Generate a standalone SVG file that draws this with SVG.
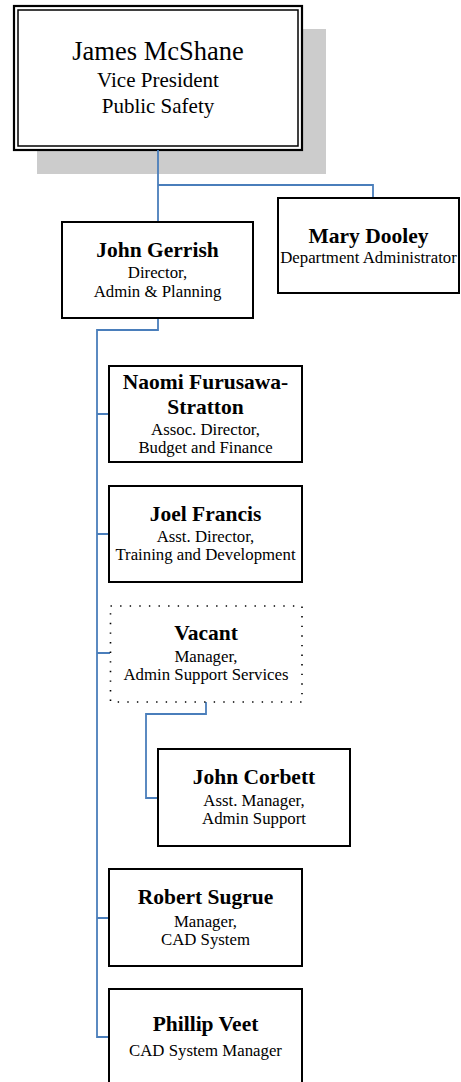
<svg xmlns="http://www.w3.org/2000/svg" width="461" height="1082" viewBox="0 0 461 1082">
<style>
.box{fill:#fff;stroke:#000;stroke-width:2}
.dot{fill:#fff;stroke:#000;stroke-width:1.6;stroke-dasharray:1.4 8.2}
.conn{fill:none;stroke:#4a7ebb;stroke-width:1.8}
text{font-family:"Liberation Serif","Times New Roman",serif;text-anchor:middle;fill:#000}
.n{font-weight:bold;font-size:21.5px}
.t{font-size:16.8px}
</style>
<rect x="0" y="0" width="461" height="1082" fill="#fff"/>
<g id="vp">
<rect x="37" y="29" width="289" height="145" fill="#cccccc"/>
<rect x="14" y="6" width="288" height="144" fill="#fff" stroke="#000" stroke-width="2.2"/>
<rect x="18" y="10" width="280" height="136" fill="none" stroke="#000" stroke-width="1.5"/>
<text x="158" y="60" font-size="26.5">James McShane</text>
<text x="158" y="87" font-size="21">Vice President</text>
<text x="158" y="113" font-size="21">Public Safety</text>
</g>
<g id="connectors">
<path class="conn" d="M158 150V222M158 185H373V198"/>
<path class="conn" d="M158 318V330H97V1037H109M97 414H109M97 534H109M97 653H110M97 918H109"/>
<path class="conn" d="M206 702V714H146V798H158"/>
</g>
<g id="gerrish">
<rect class="box" x="62" y="222" width="191" height="96"/>
<text class="n" x="157.5" y="257">John Gerrish</text>
<text class="t" x="157.5" y="278">Director,</text>
<text class="t" x="157.5" y="297">Admin &amp; Planning</text>
</g>
<g id="dooley">
<rect class="box" x="278" y="198" width="181" height="95"/>
<text class="n" x="368.5" y="243">Mary Dooley</text>
<text class="t" x="368.5" y="263">Department Administrator</text>
</g>
<g id="furusawa">
<rect class="box" x="109" y="366" width="193" height="96"/>
<text class="n" x="205.5" y="389">Naomi Furusawa-</text>
<text class="n" x="205.5" y="414">Stratton</text>
<text class="t" x="205.5" y="435">Assoc. Director,</text>
<text class="t" x="205.5" y="453">Budget and Finance</text>
</g>
<g id="francis">
<rect class="box" x="109" y="486" width="193" height="96"/>
<text class="n" x="205.5" y="521">Joel Francis</text>
<text class="t" x="205.5" y="542">Asst. Director,</text>
<text class="t" x="205.5" y="560">Training and Development</text>
</g>
<g id="vacant">
<rect class="dot" x="110.5" y="606" width="191.5" height="96"/>
<text class="n" x="206" y="640">Vacant</text>
<text class="t" x="206" y="662">Manager,</text>
<text class="t" x="206" y="680">Admin Support Services</text>
</g>
<g id="corbett">
<rect class="box" x="158" y="749" width="192" height="97"/>
<text class="n" x="254" y="784">John Corbett</text>
<text class="t" x="254" y="806">Asst. Manager,</text>
<text class="t" x="254" y="824">Admin Support</text>
</g>
<g id="sugrue">
<rect class="box" x="109" y="869" width="193" height="97"/>
<text class="n" x="205.5" y="904">Robert Sugrue</text>
<text class="t" x="205.5" y="927">Manager,</text>
<text class="t" x="205.5" y="945">CAD System</text>
</g>
<g id="veet">
<rect class="box" x="109" y="989" width="193" height="100"/>
<text class="n" x="205.5" y="1031">Phillip Veet</text>
<text class="t" x="205.5" y="1056">CAD System Manager</text>
</g>
</svg>
